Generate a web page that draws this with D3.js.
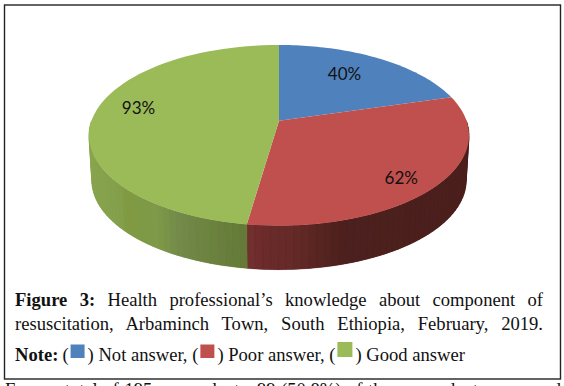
<!DOCTYPE html>
<html>
<head>
<meta charset="utf-8">
<script src="https://cdn.jsdelivr.net/npm/d3@7"></script>
<style>
  html, body { margin: 0; padding: 0; background: #fff; overflow: hidden; }
  text { fill: #111; white-space: pre; }
</style>
</head>
<body>
<div id="chart"></div>
<script>
const categories = ["Not answer", "Poor answer", "Good answer"];
const values = [40, 62, 93];
const valueLabels = ["40%", "62%", "93%"];
const colors = ["#4f81bd", "#c0504d", "#9bbb59"];
const captionLines = [
    "Health professional\u2019s knowledge about component of",
    "resuscitation, Arbaminch Town, South Ethiopia, February, 2019."
];
const bottomLine = "From a total of 195 respondents, 99 (50.8%) of the respondents answered";

const width = 564, height = 386;
const svg = d3.select("#chart").append("svg")
    .attr("width", width).attr("height", height)
    .style("display", "block");

// Frame
svg.append("rect")
    .attr("x", 4.5).attr("y", 5).attr("width", 556).attr("height", 374)
    .attr("fill", "#fff").attr("stroke", "#222").attr("stroke-width", 1.4);

// Tilted pie: unit circle to screen with a little perspective
const tilt = 0.162, depth = 45.5, shrink = 0.985;
const xScale = d3.scaleLinear().domain([-1, 1]).range([91.5, 466.5]);
const yScale = d3.scaleLinear().domain([-1, 1]).range([32.7, 208.7]);

function project(angle, r, lower) {
    const u = Math.sin(angle) * r, v = -Math.cos(angle) * r;
    const p = 1 / (1 - tilt * v), s = lower ? shrink : 1;
    return [xScale(u * p * s), yScale(v * p * s) + (lower ? depth : 0)];
}

const arcs = d3.pie().sort(null)(values);
const line = d3.line();
const arcPoints = (a0, a1, lower) =>
    d3.range(0, 61).map(i => project(a0 + (a1 - a0) * i / 60, 1, lower));

// Side wall, drawn in narrow bands that get darker to the right
const sideColor = [
    null,
    d3.scaleLinear()
        .domain([246, 266, 298, 318, 348, 470])
        .range(["#753231", "#6c2b2b", "#652a28", "#5a2522", "#4c201e", "#4a1f1c"]),
    d3.scaleLinear()
        .domain([91, 120, 128, 158, 183, 208, 246])
        .range(["#88a44e", "#84a04c", "#7f9a42", "#7f9a48", "#72894a", "#6d8340", "#657a38"])
];
const bandStep = 0.035;
arcs.forEach((d, i) => {
    const a0 = Math.max(d.startAngle, Math.PI / 2);
    const a1 = Math.min(d.endAngle, Math.PI * 1.5);
    if (a1 <= a0 || !sideColor[i]) return;
    // base layer so the band seams don't show
    svg.append("path")
        .attr("d", line([...arcPoints(a0, a1, false), ...arcPoints(a0, a1, true).reverse()]) + "Z")
        .attr("fill", sideColor[i](xScale(Math.sin((a0 + a1) / 2))));
    d3.range(a0, a1, bandStep).forEach(a => {
        const b = Math.min(a + bandStep, a1);
        const pts = [project(a, 1, false), project(b, 1, false),
                     project(b, 1, true), project(a, 1, true)];
        svg.append("path")
            .attr("d", line(pts) + "Z")
            .attr("fill", sideColor[i](pts[0][0]))
            .attr("stroke", sideColor[i](pts[0][0]))
            .attr("stroke-width", 0.4);
    });
});

// Top face
svg.selectAll(".slice")
    .data(arcs)
    .join("path")
    .attr("class", "slice")
    .attr("d", d => line([project(0, 0, false), ...arcPoints(d.startAngle, d.endAngle, false)]) + "Z")
    .attr("fill", (d, i) => colors[i]);

// Value labels
const labelNudge = [[-11.5, 3.5], [7, 12], [-1.5, -6.5]];
svg.selectAll(".value")
    .data(arcs)
    .join("text")
    .attr("class", "value")
    .attr("x", (d, i) => project((d.startAngle + d.endAngle) / 2, 0.75, false)[0] + labelNudge[i][0])
    .attr("y", (d, i) => project((d.startAngle + d.endAngle) / 2, 0.75, false)[1] + labelNudge[i][1])
    .attr("text-anchor", "middle")
    .attr("dominant-baseline", "middle")
    .attr("font-family", "Lato, 'Open Sans', sans-serif")
    .attr("font-size", 17)
    .text((d, i) => valueLabels[i]);

// Caption
const serif = "'Liberation Serif', serif";
const fontSize = 18.6;
function justified(str, x0, x1, y, bold) {
    const t = svg.append("text")
        .attr("x", x0).attr("y", y)
        .attr("font-family", serif).attr("font-size", fontSize);
    if (bold) {
        t.append("tspan").attr("font-weight", "bold").text(bold + " ");
    }
    t.append("tspan").text(str);
    const gaps = ((bold ? bold + " " : "") + str).split(" ").length - 1;
    const extra = (x1 - x0 - t.node().getComputedTextLength()) / gaps;
    t.attr("word-spacing", extra);
}
justified(captionLines[0], 15, 543, 306, "Figure 3:");
justified(captionLines[1], 15, 543, 330);
justified(bottomLine, 5, 561, 396);

// Legend note, flowed from measured text widths
let cursor = 15;
const noteY = 361;
function flow(str, bold) {
    const t = svg.append("text")
        .attr("x", cursor).attr("y", noteY)
        .attr("font-family", serif).attr("font-size", fontSize)
        .attr("font-weight", bold ? "bold" : "normal")
        .text(str);
    cursor += t.node().getComputedTextLength();
}
flow("Note:", true);
cursor += 4;
categories.forEach((c, i) => {
    flow("(");
    cursor += 2;
    svg.append("rect")
        .attr("x", cursor).attr("y", i === 2 ? 342 : 344.5)
        .attr("width", i === 2 ? 15 : 14).attr("height", i === 2 ? 15 : 13.5)
        .attr("fill", colors[i]);
    cursor += i === 2 ? 18 : 17;
    flow(") " + c + (i < categories.length - 1 ? ", " : ""));
});
</script>
</body>
</html>
